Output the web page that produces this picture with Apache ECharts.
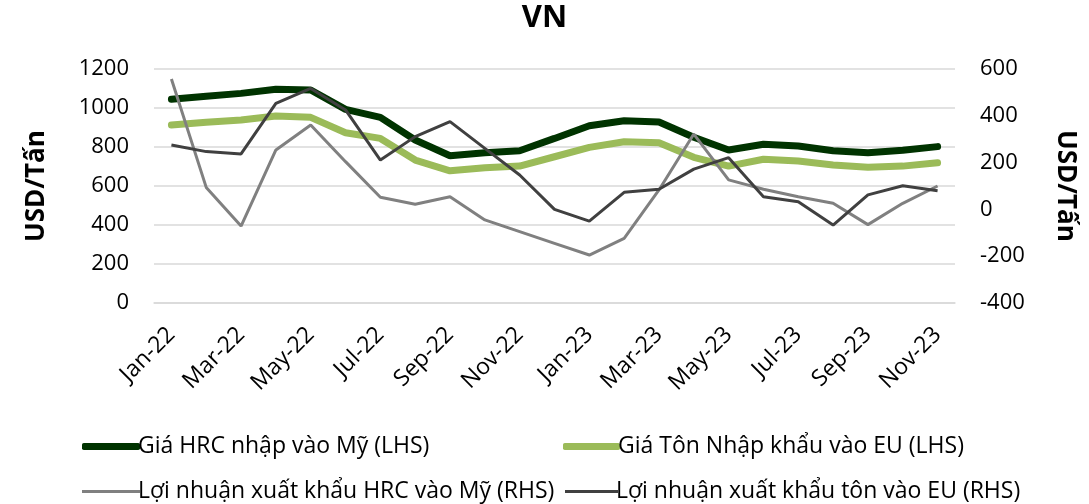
<!DOCTYPE html>
<html lang="vi">
<head>
    <meta charset="UTF-8">
    <title>VN</title>
    <script src="https://cdn.jsdelivr.net/npm/echarts@6/dist/echarts.min.js"></script>
    <style>
        body { margin: 0; background: #fff; }
        #main { width: 1089px; height: 504px; }
    </style>
</head>
<body>
    <div id="main"></div>
    <script type="text/javascript">
        // tháng
        var months = ['Jan-22','Feb-22','Mar-22','Apr-22','May-22','Jun-22','Jul-22','Aug-22','Sep-22','Oct-22','Nov-22','Dec-22',
                      'Jan-23','Feb-23','Mar-23','Apr-23','May-23','Jun-23','Jul-23','Aug-23','Sep-23','Oct-23','Nov-23'];
        // LHS
        var giaHRC = [1045,1060,1075,1096,1092,993,952,836,755,771,781,844,909,935,928,850,785,814,805,781,771,783,802];
        var giaTon = [913,927,938,959,952,873,844,733,678,694,702,750,798,827,822,747,702,737,728,708,696,702,719];
        // RHS
        var lnHRC = [557,94,-71,254,361,204,52,22,54,-45,-95,-145,-195,-124,83,322,126,86,54,26,-65,26,100];
        var lnTon = [275,247,237,453,517,425,211,311,375,261,147,0,-50,73,86,172,221,54,33,-67,62,101,80];

        var names = ['Giá HRC nhập vào Mỹ (LHS)','Giá Tôn Nhập khẩu vào EU (LHS)',
                     'Lợi nhuận xuất khẩu HRC vào Mỹ (RHS)','Lợi nhuận xuất khẩu tôn vào EU (RHS)'];
        var font = '"Open Sans", "Noto Sans", sans-serif';

        var myChart = echarts.init(document.getElementById('main'));

        function legendAt(name, left, top, w, h, icon) {
            return {
                data: [name],
                left: left,
                top: top,
                icon: icon,
                itemWidth: w,
                itemHeight: h,
                textStyle: { fontFamily: font, fontSize: 23, color: '#000', padding: [0, 0, 0, -7] }
            };
        }

        var option = {
            animation: false,
            title: {
                text: 'VN',
                left: 'center',
                top: -2,
                textStyle: { fontFamily: font, fontSize: 31, fontWeight: 'bold', color: '#000' }
            },
            legend: [
                legendAt(names[0], 77, 430, 58, 7, 'roundRect'),
                legendAt(names[1], 558, 430, 57, 7, 'roundRect'),
                legendAt(names[2], 77, 475, 58, 3, 'rect'),
                legendAt(names[3], 560, 475, 53, 3, 'rect')
            ],
            grid: { left: 154, right: 134, top: 69, bottom: 201 },
            xAxis: {
                type: 'category',
                data: months,
                boundaryGap: true,
                axisLine: { lineStyle: { color: '#d9d9d9', width: 1.5 } },
                axisTick: { interval: 1, length: 7, lineStyle: { color: '#d9d9d9', width: 1.5 } },
                axisLabel: { interval: 1, rotate: 45, margin: 28, fontFamily: font, fontSize: 23, color: '#000' }
            },
            yAxis: [{
                type: 'value',
                min: 0, max: 1200, interval: 200,
                name: 'USD/Tấn',
                nameLocation: 'middle',
                nameGap: 104,
                nameTextStyle: { fontFamily: font, fontSize: 26, fontWeight: 'bold', color: '#000' },
                axisLine: { show: false },
                axisTick: { show: false },
                axisLabel: {
                    margin: 25, fontFamily: font, fontSize: 22, color: '#000',
                    formatter: function (v) { return String(v); }
                },
                splitLine: { lineStyle: { color: '#d9d9d9', width: 1.5 } }
            }, {
                type: 'value',
                min: -400, max: 600, interval: 200,
                name: 'USD/Tấn',
                nameLocation: 'middle',
                nameRotate: -90,
                nameGap: 97,
                nameTextStyle: { fontFamily: font, fontSize: 26, fontWeight: 'bold', color: '#000' },
                axisLine: { show: false },
                axisTick: { show: false },
                axisLabel: {
                    margin: 25, fontFamily: font, fontSize: 22, color: '#000',
                    formatter: function (v) { return String(v); }
                },
                splitLine: { show: false }
            }],
            series: [{
                name: names[0], type: 'line', data: giaHRC, yAxisIndex: 0,
                symbol: 'none', z: 3,
                lineStyle: { color: '#003300', width: 7, cap: 'round' },
                itemStyle: { color: '#003300' }
            }, {
                name: names[1], type: 'line', data: giaTon, yAxisIndex: 0,
                symbol: 'none', z: 3,
                lineStyle: { color: '#9bbb59', width: 7, cap: 'round' },
                itemStyle: { color: '#9bbb59' }
            }, {
                name: names[2], type: 'line', data: lnHRC, yAxisIndex: 1,
                symbol: 'none', z: 4,
                lineStyle: { color: '#808080', width: 3 },
                itemStyle: { color: '#808080' }
            }, {
                name: names[3], type: 'line', data: lnTon, yAxisIndex: 1,
                symbol: 'none', z: 5,
                lineStyle: { color: '#404040', width: 3 },
                itemStyle: { color: '#404040' }
            }]
        };
        myChart.setOption(option);
    </script>
</body>
</html>
